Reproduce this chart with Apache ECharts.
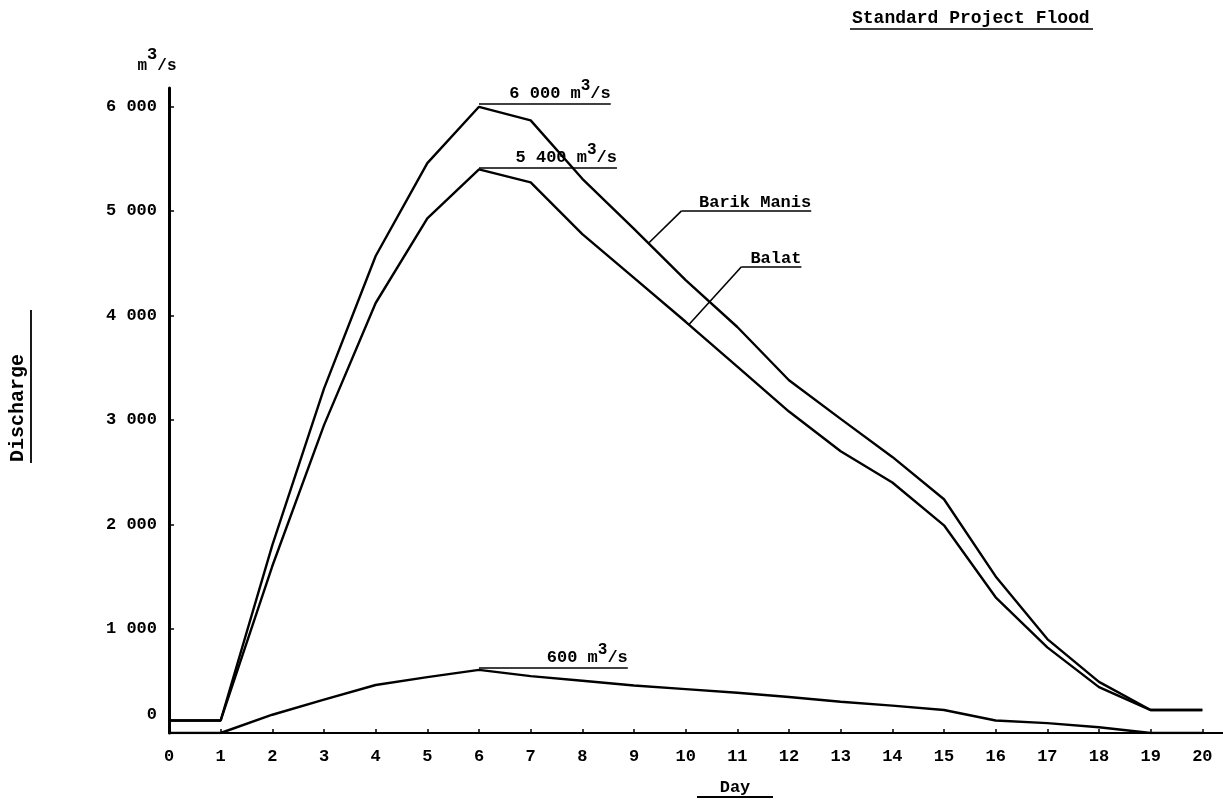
<!DOCTYPE html>
<html>
<head>
<meta charset="utf-8">
<script src="https://cdn.jsdelivr.net/npm/echarts@6/dist/echarts.min.js"></script>
<style>
html,body{margin:0;padding:0;background:#fff;}
#chart{width:1223px;height:802px;}
</style>
</head>
<body>
<div id="chart"></div>
<script>
// ---- data ----
const days = [0,1,2,3,4,5,6,7,8,9,10,11,12,13,14,15,16,17,18,19,20];
const barikManis = [120,120,1800,3300,4570,5460,6000,5870,5310,4830,4340,3890,3380,3010,2645,2240,1500,900,490,220,220];
const balat      = [120,120,1600,2950,4120,4930,5400,5275,4780,4360,3940,3510,3080,2700,2400,1990,1300,820,440,220,220];
const thirdFlow  = [0,0,175,320,460,535,605,545,500,455,420,385,345,300,262,220,120,95,55,0,0];
const yTicks = [0,1000,2000,3000,4000,5000,6000];

// ---- annotations (data coordinates) ----
const peakNotes = [
  {value:'6 000', from:[6,6030], to:[8.55,6030]},
  {value:'5 400', from:[6,5415], to:[8.67,5415]},
  {value:'600',   from:[6,625],  to:[8.88,625]}
];
const leaderNotes = [
  {name:'Barik Manis', curve:[9.29,4697], elbow:[9.92,5003], end:[12.43,5003]},
  {name:'Balat',       curve:[10.06,3911], elbow:[11.08,4467], end:[12.24,4467]}
];

const FONT = '"Liberation Mono", "DejaVu Sans Mono", monospace';
const supRich = {
  b:{fontFamily:FONT, fontWeight:'bold', fontSize:17, color:'#000'},
  s:{fontFamily:FONT, fontWeight:'bold', fontSize:16, color:'#000', padding:[0,0,16,0]}
};

const toPairs = (ys) => days.map((d,i)=>[d, ys[i]]);

const markData = [];
peakNotes.forEach(p=>{
  markData.push([
    {coord:p.from, label:{show:true, position:'insideEndTop', distance:[0,-6],
      formatter:'{b|'+p.value+' m}{s|3}{b|/s}', rich:supRich}},
    {coord:p.to}
  ]);
});
leaderNotes.forEach(l=>{
  markData.push([{coord:l.curve, label:{show:false}},{coord:l.elbow}]);
  markData.push([
    {coord:l.elbow, label:{show:true, position:'insideEndTop', distance:[0,0],
      formatter:l.name, fontFamily:FONT, fontWeight:'bold', fontSize:17, color:'#000'}},
    {coord:l.end}
  ]);
});

const lineStyle = {color:'#000', width:2.4};

const chart = echarts.init(document.getElementById('chart'));
chart.setOption({
  animation:false,
  backgroundColor:'#fff',
  grid:{left:169, right:0, top:88, bottom:69, containLabel:false},
  xAxis:{
    type:'value', min:0, max:20.4, interval:1,
    axisLine:{show:true, lineStyle:{color:'#000', width:2}},
    axisTick:{show:true, inside:true, length:4, lineStyle:{color:'#000', width:1.5}},
    axisLabel:{show:true, margin:15, showMaxLabel:false, color:'#000',
      fontFamily:FONT, fontWeight:'bold', fontSize:17},
    splitLine:{show:false}
  },
  yAxis:{
    type:'value', min:0, max:6180, interval:1000,
    axisLine:{show:true, lineStyle:{color:'#000', width:3}},
    axisTick:{show:true, inside:true, length:5, lineStyle:{color:'#000', width:1.5}},
    axisLabel:{show:true, margin:12, showMaxLabel:false, color:'#000',
      fontFamily:FONT, fontWeight:'bold', fontSize:17,
      formatter:function(v){
        if (yTicks.indexOf(v) < 0) return '';
        if (v === 0) return '{z|0}';
        return (v/1000) + ' 000';
      },
      rich:{z:{fontFamily:FONT, fontWeight:'bold', fontSize:17, color:'#000', padding:[0,0,36,0]}}
    },
    splitLine:{show:false}
  },
  series:[
    {name:'Barik Manis', type:'line', data:toPairs(barikManis), showSymbol:false,
     lineStyle:lineStyle, clip:false,
     markLine:{silent:true, symbol:['none','none'], animation:false,
       lineStyle:{color:'#000', width:1.6, type:'solid'},
       label:{show:false}, data:markData}},
    {name:'Balat', type:'line', data:toPairs(balat), showSymbol:false, lineStyle:lineStyle},
    {name:'Third', type:'line', data:toPairs(thirdFlow), showSymbol:false, lineStyle:lineStyle}
  ],
  graphic:[
    {type:'text', left:852, top:9, style:{text:'Standard Project Flood', font:'bold 18px '+FONT, fill:'#000'}},
    {type:'line', shape:{x1:850,y1:29,x2:1093,y2:29}, style:{stroke:'#000', lineWidth:1.5}},
    {type:'text', x:157, y:66, style:{text:'{b|m}{s|3}{b|/s}', align:'center', verticalAlign:'middle',
      rich:{b:{font:'bold 16px '+FONT, fill:'#000'}, s:{font:'bold 17px '+FONT, fill:'#000', padding:[0,0,22,0]}}}},
    {type:'text', x:18, y:408, rotation:Math.PI/2, style:{text:'Discharge', align:'center', verticalAlign:'middle',
      font:'bold 20px '+FONT, fill:'#000'}},
    {type:'line', shape:{x1:31,y1:310,x2:31,y2:463}, style:{stroke:'#000', lineWidth:1.8}},
    {type:'text', x:735, y:788, style:{text:'Day', align:'center', verticalAlign:'middle', font:'bold 17px '+FONT, fill:'#000'}},
    {type:'line', shape:{x1:697,y1:797,x2:773,y2:797}, style:{stroke:'#000', lineWidth:1.8}}
  ]
});
</script>
</body>
</html>
